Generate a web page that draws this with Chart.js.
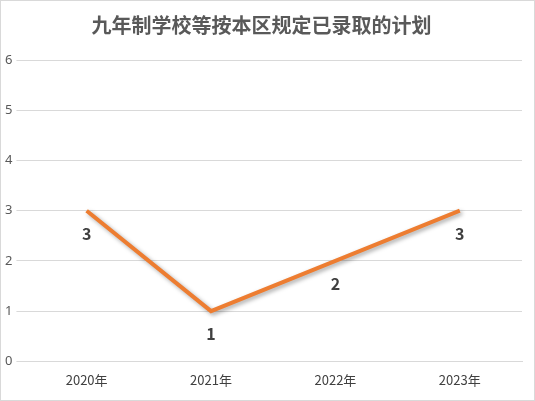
<!DOCTYPE html>
<html><head><meta charset="utf-8">
<script src="https://cdn.jsdelivr.net/npm/chart.js@4"></script>
<style>html,body{margin:0;padding:0;background:#fff}#w{width:533px;height:399px;border:1px solid #d9d9d9}</style>
</head><body><div id="w"><canvas id="c" width="533" height="399"></canvas></div>
<script>
const categories=["2020年","2021年","2022年","2023年"];
const values=[3,1,2,3];
const yTicks=[0,1,2,3,4,5,6];
const labelsPlugin={id:'lbl',afterDatasetsDraw(ch){const ctx=ch.ctx;const m=ch.getDatasetMeta(0);ctx.save();ctx.font='bold 16px "Noto Sans CJK SC", sans-serif';ctx.fillStyle='#404040';ctx.textAlign='center';ctx.textBaseline='middle';m.data.forEach((p,i)=>ctx.fillText(String(values[i]),p.x,p.y+23));ctx.restore();}};
new Chart(document.getElementById('c'),{type:'line',data:{labels:categories,datasets:[{data:values,borderColor:'#ED7D31',borderWidth:4,pointRadius:0,tension:0}]},
options:{responsive:false,animation:false,layout:{padding:{left:0,right:12,top:0,bottom:9}},
plugins:{legend:{display:false},tooltip:{enabled:false},title:{display:true,text:'九年制学校等按本区规定已录取的计划',color:'#595959',font:{size:20,weight:'bold',family:'"Noto Sans CJK SC", sans-serif'},padding:{top:12,bottom:23}}},
scales:{x:{offset:true,grid:{display:false},border:{color:'#d9d9d9'},ticks:{color:'#404040',font:{size:13,family:'"Noto Sans CJK SC", sans-serif'}}},
y:{min:0,max:6,afterBuildTicks:a=>{a.ticks=yTicks.map(v=>({value:v}))},grid:{color:'#d9d9d9'},border:{display:false},ticks:{color:'#595959',font:{size:13,family:'"Noto Sans", sans-serif'},padding:4}}}},
plugins:[labelsPlugin,{id:'sh',beforeDatasetDraw(ch){ch.ctx.save();ch.ctx.shadowColor='rgba(0,0,0,0.35)';ch.ctx.shadowBlur=4;ch.ctx.shadowOffsetX=2;ch.ctx.shadowOffsetY=2;},afterDatasetDraw(ch){ch.ctx.restore();}}]});
</script></body></html>
